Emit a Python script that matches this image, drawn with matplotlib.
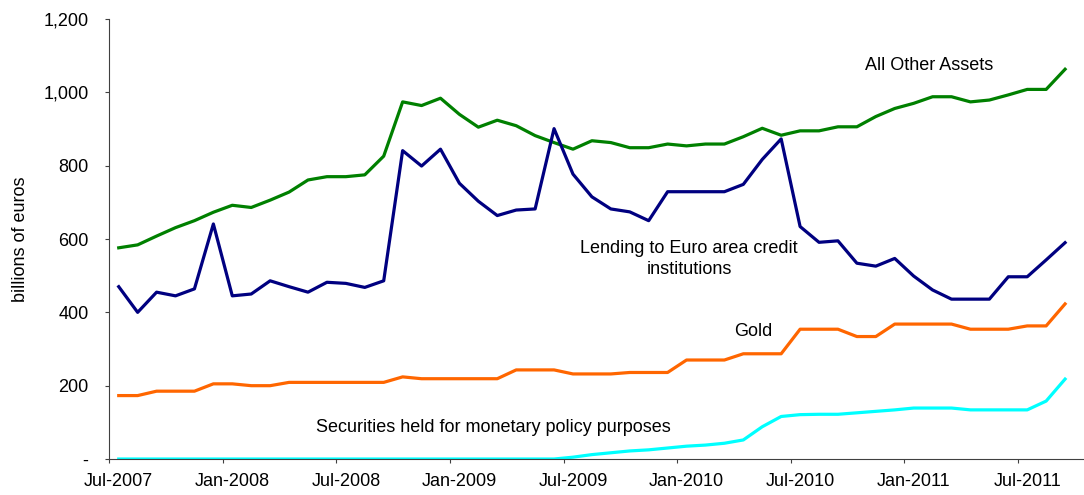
import matplotlib
matplotlib.use("Agg")
import matplotlib.pyplot as plt
import numpy as np

# Monthly values, Jul-2007 .. Sep-2011 (billions of euros)
months = ["Jul-2007", "Jan-2008", "Jul-2008", "Jan-2009", "Jul-2009",
          "Jan-2010", "Jul-2010", "Jan-2011", "Jul-2011"]

other_assets = [576, 584, 608, 631, 650, 673, 692, 686, 706, 728,
                761, 770, 770, 775, 826, 974, 964, 984, 940, 905,
                924, 909, 882, 863, 845, 868, 863, 849, 849, 859,
                854, 859, 859, 879, 902, 883, 895, 895, 906, 906,
                934, 956, 970, 988, 988, 974, 979, 993, 1008, 1008,
                1063]

lending = [470, 400, 455, 445, 464, 641, 445, 450, 486, 470,
           455, 482, 479, 468, 486, 841, 799, 845, 752, 703,
           664, 679, 682, 901, 777, 715, 682, 674, 650, 729,
           729, 729, 729, 749, 817, 873, 634, 591, 595, 534,
           526, 547, 499, 461, 436, 436, 436, 497, 497, 543,
           590]

gold = [173, 173, 185, 185, 185, 205, 205, 200, 200, 209,
        209, 209, 209, 209, 209, 224, 219, 219, 219, 219,
        219, 243, 243, 243, 232, 232, 232, 236, 236, 236,
        270, 270, 270, 287, 287, 287, 354, 354, 354, 334,
        334, 368, 368, 368, 368, 354, 354, 354, 363, 363,
        423]

securities = [0, 0, 0, 0, 0, 0, 0, 0, 0, 0,
              0, 0, 0, 0, 0, 0, 0, 0, 0, 0,
              0, 0, 0, 0, 5, 12, 17, 22, 25, 30,
              35, 38, 43, 52, 88, 116, 121, 122, 122, 126,
              130, 134, 139, 139, 139, 134, 134, 134, 134, 158,
              218]

plt.rcParams['font.family'] = ['Liberation Sans', 'DejaVu Sans']
plt.rcParams['font.size'] = 13

W, H = 1084, 495
fig = plt.figure(figsize=(W / 100, H / 100), dpi=100)
ax = fig.add_axes([0.1008, 0.0727, 0.8992, 0.8889])

x = np.arange(len(other_assets)) + 0.5
ax.plot(x, other_assets, color="#008000", lw=2.3)
ax.plot(x, lending, color="#000080", lw=2.3)
ax.plot(x, gold, color="#FF6600", lw=2.3)
ax.plot(x, securities, color="#00FFFF", lw=2.3)

ax.set_xlim(0, 51.5)
ax.set_ylim(0, 1200)

# y axis
yt = np.arange(0, 1201, 200)
ax.set_yticks(yt)
ax.set_yticklabels(["-"] + [f"{v:,}" for v in yt[1:]])
ax.tick_params(axis="y", direction="out", length=3, pad=12, color="#404040")
ax.set_ylabel("billions of euros")
ax.yaxis.set_label_coords(-0.082, 0.5)

# x axis: tick marks every 6 months, labels shifted half a month
ax.set_xticks(np.arange(0, 49, 6))
ax.set_xticklabels([])
ax.set_xticks(np.arange(0, 49, 6) + 0.5, minor=True)
ax.set_xticklabels(months, minor=True)
ax.tick_params(axis="x", which="major", direction="out", length=3, color="#404040")
ax.tick_params(axis="x", which="minor", length=0, pad=10)

for s in ["top", "right"]:
    ax.spines[s].set_visible(False)
for s in ["left", "bottom"]:
    ax.spines[s].set_color("#404040")

# series labels, placed in pixel coordinates (from top-left)
def label(px, py, s, **kw):
    ax.text(px, H - py, s, transform=None, ha="center", va="center", **kw)

label(929, 65, "All Other Assets")
label(689, 259, "Lending to Euro area credit\ninstitutions", linespacing=1.3)
label(753, 331, "Gold")
label(493, 428, "Securities held for monetary policy purposes")

fig.savefig("out.png", dpi=100)
